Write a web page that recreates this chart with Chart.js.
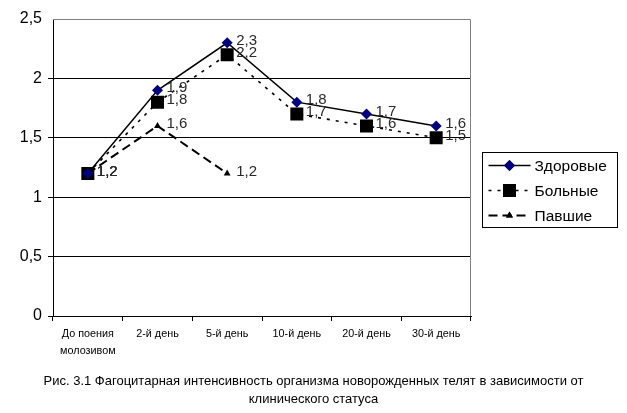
<!DOCTYPE html>
<html>
<head>
<meta charset="utf-8">
<script src="https://cdn.jsdelivr.net/npm/chart.js@4"></script>
<style>
  body { margin: 0; background: #fff; }
  #wrap { position: relative; width: 627px; height: 413px; }
  #caption { position: absolute; left: 0; width: 627px; top: 372px; text-align: center;
    font: 13px "Liberation Sans", Arial, sans-serif; line-height: 18px; color: #000; }
</style>
</head>
<body>
<div id="wrap">
  <canvas id="c" width="627" height="413"></canvas>
  <div id="caption">Рис. 3.1 Фагоцитарная интенсивность организма новорожденных телят в зависимости от<br>клинического статуса</div>
</div>
<script>
const categories = [['До поения', 'молозивом'], '2-й день', '5-й день', '10-й день', '20-й день', '30-й день'];
const healthy = [1.2, 1.9, 2.3, 1.8, 1.7, 1.6];
const sick = [1.2, 1.8, 2.2, 1.7, 1.6, 1.5];
const dead = [1.2, 1.6, 1.2, null, null, null];
const seriesNames = ['Здоровые', 'Больные', 'Павшие'];
const yTicks = [0, 0.5, 1, 1.5, 2, 2.5];

const FONT = '"Liberation Sans", Arial, sans-serif';
const fmt = (v) => String(v).replace('.', ',');

// value labels to the right of every point
const valueLabels = {
  id: 'valueLabels',
  afterDatasetsDraw(chart) {
    const ctx = chart.ctx;
    ctx.save();
    ctx.font = '15px ' + FONT;
    ctx.fillStyle = '#2a2a2a';
    ctx.textBaseline = 'middle';
    chart.data.datasets.forEach((ds, i) => {
      chart.getDatasetMeta(i).data.forEach((pt, j) => {
        const v = ds.data[j];
        if (v == null) return;
        ctx.fillText(fmt(v), pt.x + 9, pt.y - 2);
      });
    });
    ctx.restore();
  }
};

// gray top/right frame + boxed legend on the right
const frameLegend = {
  id: 'frameLegend',
  afterDraw(chart) {
    const ctx = chart.ctx;
    const a = chart.chartArea;
    ctx.save();
    ctx.strokeStyle = '#808080';
    ctx.lineWidth = 1;
    ctx.beginPath();
    ctx.moveTo(a.left, a.top + 0.5);
    ctx.lineTo(a.right - 0.5, a.top + 0.5);
    ctx.lineTo(a.right - 0.5, a.bottom);
    ctx.stroke();

    const bx = 482.5, by = 152.5, bw = 135, bh = 75;
    ctx.strokeStyle = '#000';
    ctx.strokeRect(bx, by, bw, bh);
    ctx.font = '15.5px ' + FONT;
    ctx.textBaseline = 'middle';
    chart.data.datasets.forEach((ds, i) => {
      const y = by + 13 + i * 25;
      ctx.strokeStyle = ds.borderColor;
      ctx.lineWidth = ds.borderWidth;
      ctx.setLineDash(ds.borderDash || []);
      ctx.beginPath();
      ctx.moveTo(bx + 6, y);
      ctx.lineTo(bx + 48, y);
      ctx.stroke();
      ctx.setLineDash([]);
      Chart.helpers.drawPoint(ctx, {
        pointStyle: ds.pointStyle, radius: ds.pointRadius, borderWidth: 0
      }, bx + 27, y);
      ctx.fillStyle = ds.pointBackgroundColor;
      ctx.fill();
      ctx.fillStyle = '#000';
      ctx.fillText(seriesNames[i], bx + 52, y + 1);
    });
    ctx.restore();
  }
};

new Chart(document.getElementById('c'), {
  type: 'line',
  data: {
    labels: categories,
    datasets: [
      { label: seriesNames[0], data: healthy, borderColor: '#000', borderWidth: 1.5,
        pointStyle: 'rectRot', pointRadius: 5.5, pointBackgroundColor: '#000080',
        pointBorderColor: '#000080', pointBorderWidth: 0, tension: 0 },
      { label: seriesNames[1], data: sick, borderColor: '#000', borderWidth: 1.6, borderDash: [3, 6],
        pointStyle: 'rect', pointRadius: 9.2, pointBackgroundColor: '#000',
        pointBorderColor: '#000', pointBorderWidth: 0, tension: 0 },
      { label: seriesNames[2], data: dead, borderColor: '#000', borderWidth: 2, borderDash: [9, 5],
        pointStyle: 'triangle', pointRadius: 4, pointBackgroundColor: '#000',
        pointBorderColor: '#000', pointBorderWidth: 0, tension: 0 }
    ]
  },
  options: {
    responsive: false,
    animation: false,
    layout: { padding: { left: 0, right: 156, top: 19, bottom: 0 } },
    plugins: { legend: { display: false }, tooltip: { enabled: false } },
    scales: {
      x: {
        offset: true,
        afterFit: (s) => { s.height = 97; },
        border: { color: '#000', width: 1 },
        grid: { offset: true, drawOnChartArea: false, tickLength: 5, color: '#000' },
        ticks: { color: '#000', font: { family: FONT, size: 10.8, lineHeight: 1.55 }, maxRotation: 0, padding: 5 }
      },
      y: {
        min: 0, max: 2.5,
        afterFit: (s) => { s.width = 53; },
        afterBuildTicks: (s) => { s.ticks = yTicks.map((v) => ({ value: v })); },
        border: { color: '#000', width: 1 },
        grid: { color: (c) => (c.tick && c.tick.value === 2.5 ? 'rgba(0,0,0,0)' : '#000'),
                tickLength: 5, lineWidth: 1 },
        ticks: { color: '#000', font: { family: FONT, size: 16 }, padding: 6,
                 callback: (v) => fmt(v) }
      }
    }
  },
  plugins: [valueLabels, frameLegend]
});
</script>
</body>
</html>
